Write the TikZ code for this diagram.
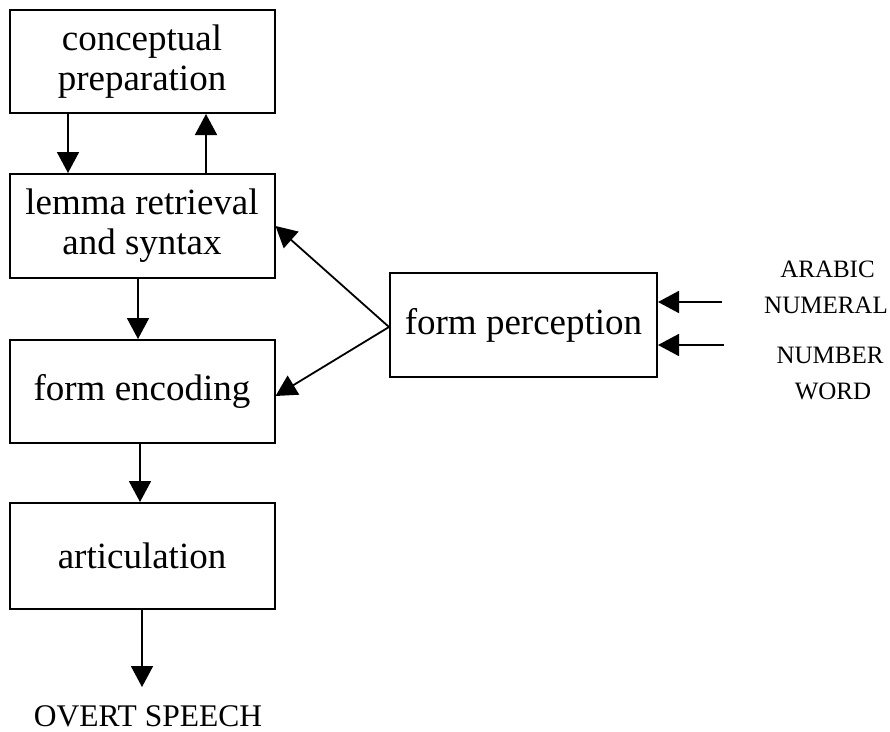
\documentclass[tikz,border=0pt]{standalone}
\usepackage{fontspec}
\setmainfont{Liberation Serif}
\usetikzlibrary{arrows.meta}
\begin{document}
\begin{tikzpicture}[x=1pt,y=-1pt,
  stage/.style={draw, line width=2pt, minimum width=265pt, inner sep=0pt, align=center, font=\fontsize{37}{40}\selectfont},
  flow/.style={line width=1.8pt, -{Triangle[length=21pt,width=22pt]}},
  small/.style={font=\fontsize{25}{30}\selectfont, anchor=base, inner sep=0pt}]
\useasboundingbox (0,0) rectangle (890,731);
\node[stage, minimum height=103pt] (cp) at (142,61.5) {conceptual\\preparation};
\node[stage, minimum height=104pt] (lem) at (142,226) {lemma retrieval\\and syntax};
\node[stage, minimum height=103pt] (enc) at (142,391.5) {form encoding};
\node[stage, minimum height=106pt] (art) at (142,556) {articulation};
\node[stage, minimum width=267pt, minimum height=104pt] (fp) at (523.5,325) {form perception};
\node[font=\fontsize{31.5}{36}\selectfont, anchor=base, inner sep=0pt] (os) at (148,726) {OVERT SPEECH};
\node[small] (an1) at (827.5,277) {ARABIC};
\node[small] (an2) at (826,313) {NUMERAL};
\node[small] (nw1) at (830,363) {NUMBER};
\node[small] (nw2) at (833,399) {WORD};
\coordinate (inA) at (722,302);
\coordinate (inB) at (724,345);
\coordinate (speech) at (142,687);
\draw[flow] ([xshift=-74pt]cp.south) -- ([xshift=-74pt]lem.north);
\draw[flow] ([xshift=64pt]lem.north) -- ([xshift=64pt]cp.south);
\draw[flow] ([xshift=-4pt]lem.south) -- ([xshift=-4pt]enc.north);
\draw[flow] ([xshift=-2pt]enc.south) -- ([xshift=-2pt]art.north);
\draw[flow] (art.south) -- (speech);
\draw[flow] ([yshift=-2pt]fp.west) -- (lem.east);
\draw[flow] ([yshift=-2pt]fp.west) -- ([yshift=-4.5pt]enc.east);
\draw[flow] (inA) -- (inA -| fp.east);
\draw[flow] (inB) -- (inB -| fp.east);
\end{tikzpicture}
\end{document}
